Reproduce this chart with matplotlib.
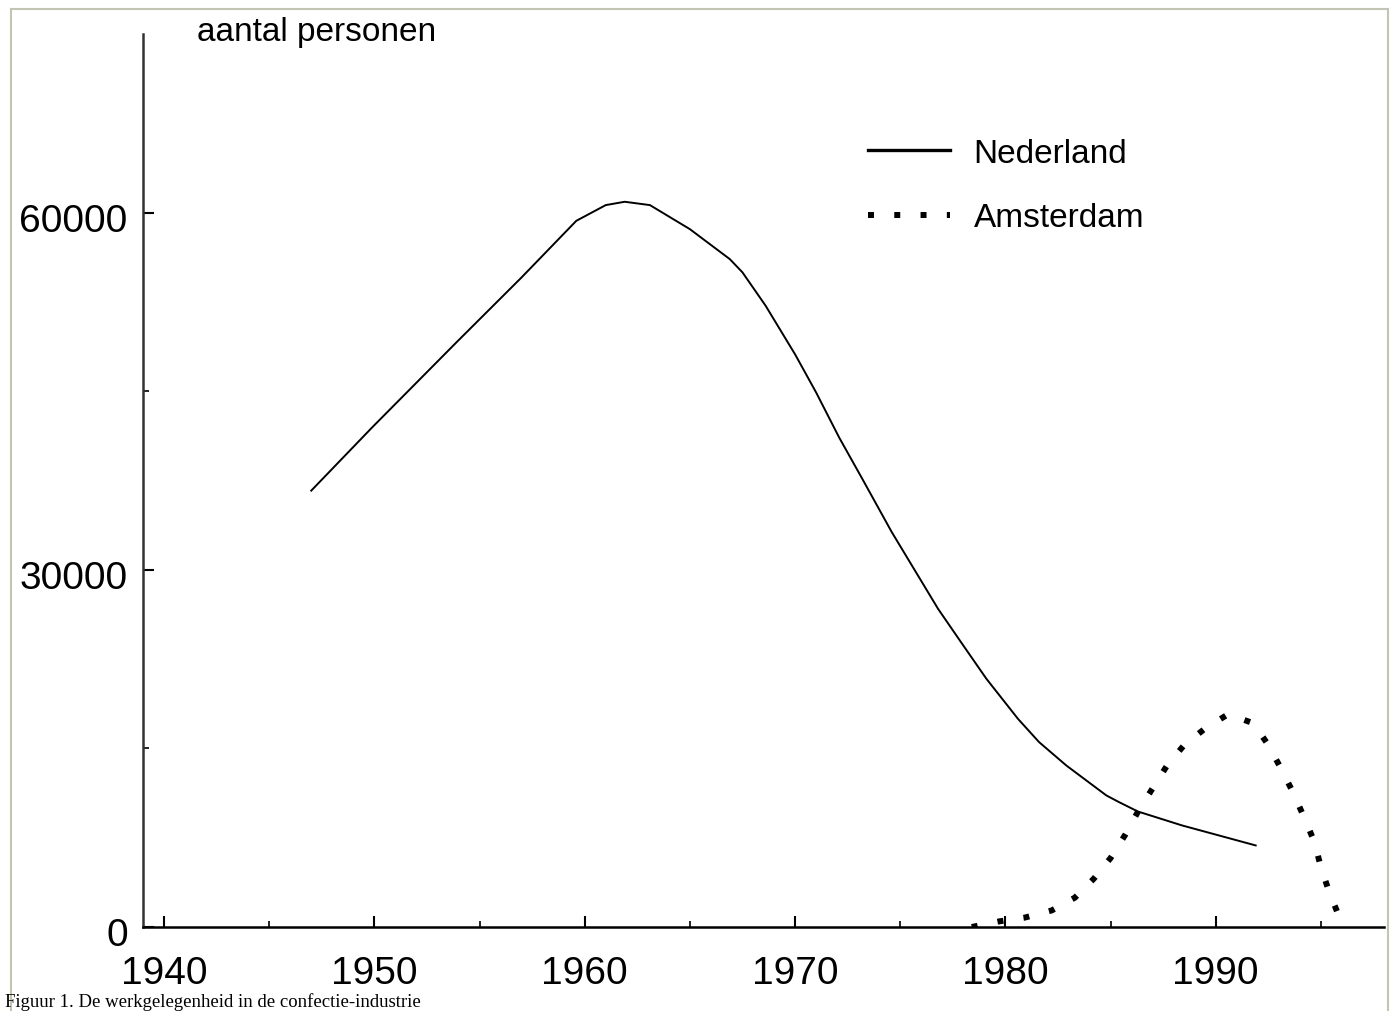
import matplotlib
matplotlib.use("Agg")
import matplotlib.pyplot as plt
import matplotlib.transforms as mtransforms
from matplotlib.lines import Line2D

# Nederland
jaren_nl = [1947.0, 1949.9, 1953.9, 1957.0, 1959.6, 1961.0, 1961.9, 1963.1, 1965.0,
            1966.9, 1967.5, 1968.6, 1970.0, 1971.0, 1972.1, 1973.2, 1974.6, 1976.8,
            1978.0, 1979.1, 1980.6, 1981.6, 1982.9, 1984.8, 1985.4, 1986.3, 1988.4,
            1991.9]
personen_nl = [36650, 41970, 49100, 54560, 59310, 60630, 60910, 60630, 58610,
               56090, 54980, 52180, 48100, 44900, 41100, 37630, 33160, 26720,
               23640, 20840, 17480, 15530, 13560, 11050, 10490, 9700, 8530,
               6850]

# Amsterdam
jaren_ams = [1978.4, 1979.7, 1980.9, 1982.2, 1983.3, 1984.2, 1985.0, 1985.7, 1986.3,
             1987.0, 1987.7, 1988.5, 1989.5, 1990.6, 1991.8, 1992.5, 1993.1, 1993.7,
             1994.2, 1994.7, 1995.0, 1995.4, 1995.9]
personen_ams = [0, 470, 780, 1390, 2460, 4050, 5790, 7750, 9680,
                11650, 13600, 15280, 16680, 17880, 17100, 15280, 13320, 11220,
                9210, 7110, 5010, 2910, 730]

x_ticks = [1940, 1950, 1960, 1970, 1980, 1990]
x_minor = [1945, 1955, 1965, 1975, 1985, 1995]
y_ticks = [0, 30000, 60000]
y_minor = [15000, 45000]

W, H = 1395, 1012
plt.rcParams['font.family'] = ['Liberation Sans', 'DejaVu Sans']

fig = plt.figure(figsize=(W / 100, H / 100), dpi=100)
ax = fig.add_axes([143 / W, 1 - 928 / H, (1384 - 143) / W, (928 - 35) / H])

ax.plot(jaren_nl, personen_nl, color='black', lw=1.4, label='Nederland',
        solid_joinstyle='round')
ax.plot(jaren_ams, personen_ams, color='black', lw=4.3, linestyle=(0, (1, 3.4)),
        dash_capstyle='butt', label='Amsterdam')

ax.set_xlim(1939, 1998)
ax.set_ylim(0, 75000)

for s in ['top', 'right']:
    ax.spines[s].set_visible(False)
ax.spines['left'].set_linewidth(1.8)
ax.spines['left'].set_color('#333333')
ax.spines['bottom'].set_linewidth(1.8)
ax.spines['bottom'].set_color('black')

ax.set_xticks(x_ticks)
ax.set_xticks(x_minor, minor=True)
ax.set_yticks(y_ticks)
ax.set_yticks(y_minor, minor=True)
ax.set_xticklabels([str(j) for j in x_ticks])
ax.set_yticklabels([str(v) for v in y_ticks])

ax.tick_params(which='major', direction='in', length=8, width=1.5, labelsize=28)
ax.tick_params(which='minor', direction='in', length=4.5, width=1.2)
ax.tick_params(axis='x', which='major', pad=20)
ax.tick_params(axis='y', which='major', pad=11)

# y labels iets lager zoals in het origineel
offset = mtransforms.ScaledTranslation(0, -4 / 100, fig.dpi_scale_trans)
for lbl in ax.get_yticklabels():
    lbl.set_transform(lbl.get_transform() + offset)

fig.text(197 / W, 1 - 33 / H, 'aantal personen', fontsize=24, va='center', ha='left')

leg = ax.legend(loc='upper left', bbox_to_anchor=(868 / W, 1 - 139 / H),
                bbox_transform=fig.transFigure, frameon=False, fontsize=24,
                handlelength=2.45, handletextpad=0.72, labelspacing=1.0,
                borderpad=0, borderaxespad=0)
leg.get_lines()[0].set_linewidth(2.4)

fig.text(5 / W, 1 - 1007 / H, 'Figuur 1. De werkgelegenheid in de confectie-industrie',
         fontsize=13.5, family=['Liberation Serif', 'DejaVu Serif'], va='baseline')

# kader
rand = '#c4c4b4'
fig.add_artist(Line2D([11 / W, 11 / W], [0, 1 - 10 / H], color=rand, lw=1.5))
fig.add_artist(Line2D([11 / W, 1388 / W], [1 - 10 / H, 1 - 10 / H], color=rand, lw=1.5))
fig.add_artist(Line2D([1388 / W, 1388 / W], [0, 1 - 10 / H], color=rand, lw=1.5))

fig.savefig('out.png', dpi=100)
